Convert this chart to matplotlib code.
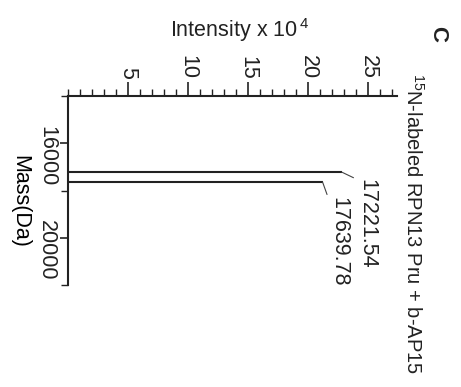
import matplotlib
matplotlib.use("Agg")
import matplotlib.pyplot as plt
import matplotlib.transforms as mtransforms
from matplotlib.ticker import MultipleLocator

plt.rcParams["font.family"] = ["Liberation Sans", "DejaVu Sans"]
plt.rcParams["mathtext.fontset"] = "custom"
plt.rcParams["mathtext.rm"] = "Liberation Sans"
plt.rcParams["mathtext.default"] = "regular"
plt.rcParams["text.color"] = "#222222"
plt.rcParams["xtick.color"] = "#222222"
plt.rcParams["ytick.color"] = "#222222"

# spectrum peaks (mass in Da, intensity x 10^4)
peak_mass = [17221.54, 17639.78]
peak_intensity = [22.8, 21.2]
peak_labels = ["17221.54", "17639.78"]
label_offsets = [(18, -5), (11.5, -11)]  # points

mass_ticks = [16000, 20000]
intensity_ticks = [5, 10, 15, 20, 25]

FS = 15.5

fig = plt.figure(figsize=(4.61, 3.87), dpi=100)
# figure is drawn rotated: intensity across the top, mass running downwards
ax = fig.add_axes([68 / 461, 1 - 285 / 387, (397 - 68) / 461, (285 - 96) / 387])

ax.hlines(peak_mass, 0, peak_intensity, color="#222222", linewidth=1.5)

for m, h, lab, off in zip(peak_mass, peak_intensity, peak_labels, label_offsets):
    ax.annotate(lab, xy=(h, m), xytext=off, textcoords="offset points",
                rotation=-90, rotation_mode="anchor", ha="left", va="center",
                fontsize=FS,
                arrowprops=dict(arrowstyle="-", color="#444444", lw=0.8,
                                shrinkA=0, shrinkB=0, relpos=(0, 1)))

ax.set_xlim(0, 27.4)
ax.set_ylim(22000, 14000)

ax.spines["right"].set_visible(False)
ax.spines["bottom"].set_visible(False)
ax.spines["top"].set_linewidth(1.5)
ax.spines["left"].set_linewidth(1.5)
ax.spines["top"].set_color("#222222")
ax.spines["left"].set_color("#222222")

ax.xaxis.tick_top()
ax.set_xticks(intensity_ticks)
ax.xaxis.set_minor_locator(MultipleLocator(1))
ax.tick_params(axis="x", which="major", length=10, width=1.2, labelsize=FS,
               labelrotation=-90, pad=2)
ax.tick_params(axis="x", which="minor", length=5, width=1.0)

ax.set_yticks(mass_ticks)
ax.yaxis.set_minor_locator(MultipleLocator(2000))
ax.tick_params(axis="y", which="major", length=6, width=1.2, labelsize=FS,
               labelrotation=-90, pad=2)
ax.tick_params(axis="y", which="minor", length=5, width=1.0)
shift = mtransforms.ScaledTranslation(0, -13 / 100, fig.dpi_scale_trans)
for t in ax.get_yticklabels():
    t.set_va("center")
    t.set_transform(t.get_transform() + shift)

ax.set_ylabel("Mass(Da)", rotation=-90, fontsize=FS, va="center")
ax.yaxis.set_label_coords(-48 / 329, (285 - 201) / 189)

fig.text(240 / 461, 1 - 30 / 387, "Intensity x 10$^{\\,4}$", fontsize=FS,
         ha="center", va="center")
fig.text(413 / 461, 1 - 224 / 387, "$^{15}$N-labeled RPN13 Pru + b-AP15",
         rotation=-90, fontsize=14.5, ha="center", va="center")
fig.text(438 / 461, 1 - 34 / 387, "C", rotation=-90, fontsize=16,
         fontweight="bold", ha="center", va="center")

fig.savefig("out.png", dpi=100)
